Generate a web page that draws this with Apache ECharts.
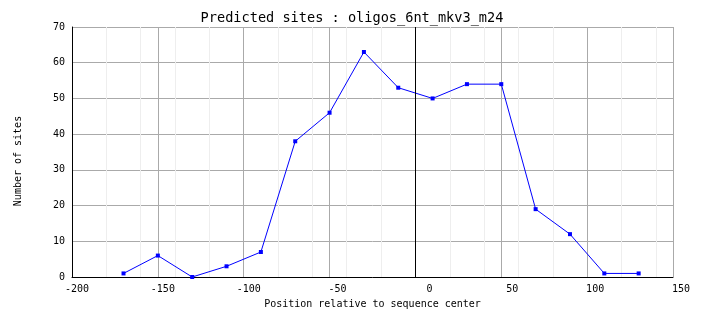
<!DOCTYPE html>
<html>
<head>
<meta charset="utf-8">
<script src="https://cdn.jsdelivr.net/npm/echarts@6/dist/echarts.min.js"></script>
<style>
html,body{margin:0;padding:0;background:#fff;}
#chart{width:704px;height:328px;}
</style>
</head>
<body>
<div id="chart"></div>
<script>
const titleText = "Predicted sites : oligos_6nt_mkv3_m24";
const xAxisTitle = "Position relative to sequence center";
const yAxisTitle = "Number of sites";
const positions = [-170, -150, -130, -110, -90, -70, -50, -30, -10, 10, 30, 50, 70, 90, 110, 130];
const siteCounts = [1, 6, 0, 3, 7, 38, 46, 63, 53, 50, 54, 54, 19, 12, 1, 1];
const xTicks = [-200, -150, -100, -50, 0, 50, 100, 150];
const yTicks = [0, 10, 20, 30, 40, 50, 60, 70];
const centerLine = 0;

const mono = "DejaVu Sans Mono";
const chart = echarts.init(document.getElementById('chart'), null, {renderer: 'canvas'});
const points = positions.map((p, i) => [p, siteCounts[i]]);

chart.setOption({
  animation: false,
  backgroundColor: '#ffffff',
  title: {
    text: titleText,
    left: 'center',
    top: 6,
    textStyle: {fontFamily: mono, fontSize: 13.6, fontWeight: 'normal', color: '#000'}
  },
  grid: {left: 72, right: 31, top: 27, bottom: 51, containLabel: false, outerBoundsMode: 'none'},
  xAxis: [
    {
      type: 'value', min: xTicks[0], max: xTicks[xTicks.length - 1], interval: 20,
      axisLine: {show: false}, axisTick: {show: false}, axisLabel: {show: false},
      splitLine: {show: true, lineStyle: {color: '#eeeeee', width: 1}}
    },
    {
      type: 'value', min: xTicks[0], max: xTicks[xTicks.length - 1], interval: xTicks[1] - xTicks[0],
      position: 'bottom',
      name: xAxisTitle, nameLocation: 'middle', nameGap: 22,
      nameTextStyle: {fontFamily: mono, fontSize: 10, color: '#000'},
      axisLine: {show: true, onZero: false, lineStyle: {color: '#000', width: 1}},
      axisTick: {show: false},
      axisLabel: {
        show: true, margin: 7, fontFamily: mono, fontSize: 10, color: '#000',
        showMinLabel: true, showMaxLabel: true,
        padding: [0, 0, 0, 10],
        formatter: v => String(v).padStart(4, ' ')
      },
      splitLine: {show: true, lineStyle: {color: '#aaaaaa', width: 1}}
    }
  ],
  yAxis: {
    type: 'value', min: yTicks[0], max: yTicks[yTicks.length - 1], interval: yTicks[1] - yTicks[0],
    axisLine: {show: true, onZero: false, lineStyle: {color: '#000', width: 1}},
    axisTick: {show: false},
    axisLabel: {margin: 7, fontFamily: mono, fontSize: 10, color: '#000', padding: [3, 0, 0, 0]},
    splitLine: {show: true, lineStyle: {color: '#aaaaaa', width: 1}}
  },
  graphic: [{
    type: 'text', x: 18, y: 161, rotation: Math.PI / 2,
    style: {text: yAxisTitle, font: '10px "DejaVu Sans Mono"', fill: '#000', align: 'center', verticalAlign: 'middle'}
  }],
  series: [{
    type: 'line', xAxisIndex: 1, data: points,
    symbol: 'rect', symbolSize: 4, showAllSymbol: true,
    lineStyle: {color: '#0000ff', width: 1},
    itemStyle: {color: '#0000ff'},
    markLine: {
      silent: true, symbol: 'none', label: {show: false},
      lineStyle: {color: '#000', width: 1, type: 'solid'},
      data: [{xAxis: centerLine}]
    }
  }]
});
</script>
</body>
</html>
